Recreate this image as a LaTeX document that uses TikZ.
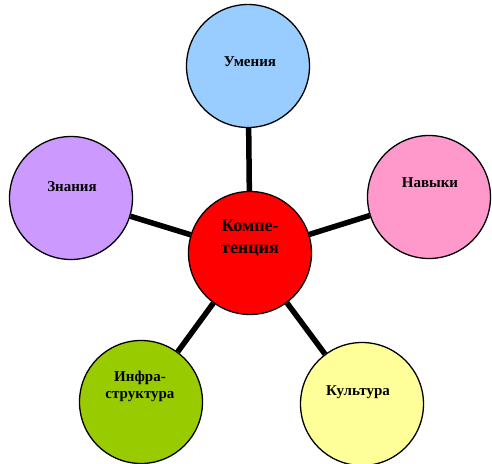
\documentclass[tikz,border=0pt]{standalone}
\usepackage{fontspec}
\setmainfont{Liberation Serif}
\begin{document}
\begin{tikzpicture}[x=1pt,y=1pt,
  bubble/.style={circle,draw=black,line width=1.3pt,minimum size=123pt,inner sep=0pt},
  lbl/.style={font=\bfseries\fontsize{15}{17}\selectfont,align=center},
  biglbl/.style={font=\bfseries\fontsize{18}{22}\selectfont,align=center},
  link/.style={line width=5.5pt,black}]
\definecolor{cblue}{HTML}{99CCFF}
\definecolor{cpink}{HTML}{FF99CC}
\definecolor{cpurple}{HTML}{CC99FF}
\definecolor{cred}{HTML}{FF0000}
\definecolor{cgreen}{HTML}{99CC00}
\definecolor{cyellow}{HTML}{FFFF99}
\useasboundingbox (0,0) rectangle (492,463);
\node[bubble,fill=cred] (red) at (250,210) {};
\node[bubble,fill=cblue] (blue) at (248,397) {};
\node[bubble,fill=cpink] (pink) at (429,266) {};
\node[bubble,fill=cpurple] (purple) at (71,265) {};
\node[bubble,fill=cgreen] (green) at (141,61) {};
\node[bubble,fill=cyellow] (yellow) at (362,59) {};
\draw[link] (red) -- (blue);
\draw[link] (red) -- (pink);
\draw[link] (red) -- (purple);
\draw[link] (red) -- (green);
\draw[link] (red) -- (yellow);
\node[biglbl] (tred) at (250,225) {Компе-\\тенция};
\node[lbl] (tblue) at (250,401) {Умения};
\node[lbl] (tpink) at (430,280) {Навыки};
\node[lbl] (tpurple) at (72,276) {Знания};
\node[lbl] (tgreen) at (140,77) {Инфра-\\структура};
\node[lbl] (tyellow) at (358,71) {Культура};
\end{tikzpicture}
\end{document}
